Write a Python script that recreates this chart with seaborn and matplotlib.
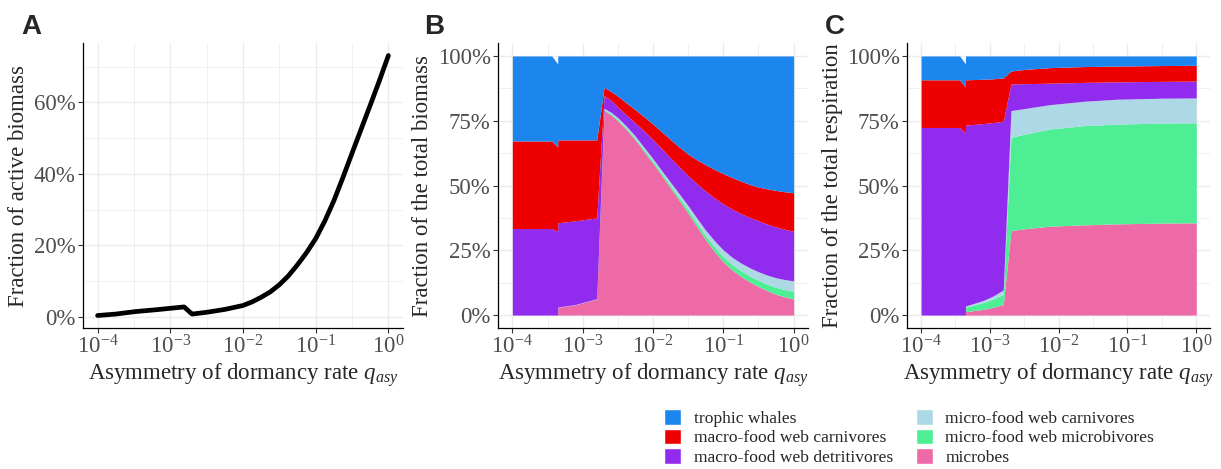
import numpy as np
import seaborn as sns
import matplotlib.pyplot as plt
from matplotlib.patches import Patch

sns.set_style('white')
plt.rcParams['font.family'] = ['Liberation Serif', 'DejaVu Serif']
plt.rcParams['mathtext.fontset'] = 'custom'
plt.rcParams['mathtext.rm'] = 'Liberation Serif'
plt.rcParams['mathtext.it'] = 'Liberation Serif:italic'

# --- data (log10 of q_asy, values in %) ---
logq_a = [-4, -3.75, -3.48, -3.2, -2.81, -2.70, -2.5, -2.25, -2.0, -1.875, -1.75,
          -1.625, -1.5, -1.375, -1.25, -1.125, -1.0, -0.875, -0.75, -0.625, -0.5,
          -0.375, -0.25, -0.125, 0.0]
active_a = [0.4, 0.8, 1.5, 2.0, 2.8, 0.8, 1.3, 2.1, 3.2, 4.2, 5.5,
            7.0, 9.0, 11.5, 14.6, 18.0, 21.9, 26.8, 32.5, 39.0, 45.8,
            52.5, 59.2, 66.0, 73.1]

groups = ['trophic whales', 'macro-food web carnivores', 'macro-food web detritivores',
          'micro-food web carnivores', 'micro-food web microbivores', 'microbes']
colors = ['#1C86EE', '#EE0000', '#912CEE', '#ADD8E6', '#4EEE94', '#EE6AA7']

# panel B: fraction of total biomass
logq_b = [-4, -3.44, -3.356, -3.354, -3.1, -2.8, -2.695, -2.6, -2.5, -2.375, -2.25,
          -2.125, -2.0, -1.875, -1.75, -1.625, -1.5, -1.375, -1.25, -1.125, -1.0,
          -0.875, -0.75, -0.625, -0.5, -0.375, -0.25, -0.125, 0.0]
b_microbes = [0, 0, 0, 3.0, 4.0, 6.2, 78.9, 77.3, 75.0, 71.5, 67.5,
              63.0, 58.5, 53.8, 49.0, 44.2, 39.3, 34.1, 29.0, 24.5, 20.5,
              17.4, 14.9, 12.8, 11.0, 9.4, 8.0, 7.0, 6.2]
b_microbivores = [0, 0, 0, 0, 0, 0, 0.5, 0.5, 0.6, 0.6, 0.7,
                  0.8, 0.9, 0.9, 1.0, 1.1, 1.3, 1.4, 1.6, 1.8, 2.0,
                  2.1, 2.2, 2.3, 2.4, 2.5, 2.7, 2.8, 2.9]
b_micro_carn = [0, 0, 0, 0.1, 0.1, 0.1, 0.4, 0.5, 0.6, 0.7, 0.8,
                0.85, 0.9, 1.0, 1.2, 1.4, 1.6, 1.85, 2.1, 2.35, 2.6,
                2.8, 3.0, 3.15, 3.3, 3.5, 3.7, 3.9, 4.1]
b_detritivores = [33.4, 33.4, 32.3, 32.5, 32.3, 31.2, 4.9, 4.7, 4.1, 4.4, 5.1,
                  6.35, 7.4, 8.5, 9.4, 10.5, 11.6, 13.35, 15.1, 16.55, 17.8,
                  18.6, 19.1, 19.45, 19.7, 19.7, 19.6, 19.4, 19.1]
b_macro_carn = [33.8, 33.8, 32.6, 32.0, 31.2, 30.1, 3.3, 3.3, 4.2, 4.6, 5.1,
                5.5, 6.0, 6.5, 7.1, 7.6, 8.3, 9.2, 10.2, 11.0, 11.7,
                12.2, 12.5, 12.7, 13.0, 13.6, 14.1, 14.5, 14.9]
b_whales = [32.8, 32.8, 32.1, 32.4, 32.4, 32.4, 12.0, 13.7, 15.5, 18.2, 20.8,
            23.5, 26.3, 29.3, 32.3, 35.2, 37.9, 40.1, 42.0, 43.8, 45.4,
            46.9, 48.3, 49.6, 50.6, 51.3, 51.9, 52.4, 52.8]

# panel C: fraction of total respiration
logq_c = [-4, -3.44, -3.356, -3.354, -3.1, -2.95, -2.805, -2.694, -2.5, -2.13,
          -1.64, -1.16, -0.5, 0.0]
c_microbes = [0, 0, 0, 1.3, 2.2, 3.0, 4.1, 32.6, 33.3, 34.3, 34.8, 35.2, 35.5, 35.6]
c_microbivores = [0, 0, 0, 1.7, 2.6, 3.2, 3.9, 36.0, 36.5, 37.5, 38.3, 38.5, 38.6, 38.6]
c_micro_carn = [0, 0, 0, 0.5, 0.8, 1.2, 1.7, 10.3, 9.9, 9.4, 9.4, 9.6, 9.6, 9.6]
c_detritivores = [72.4, 72.4, 70.1, 69.8, 68.3, 66.9, 65.1, 10.3, 9.6, 8.3, 7.3, 6.7,
                  6.5, 6.5]
c_macro_carn = [18.4, 18.4, 17.9, 17.5, 17.1, 16.9, 16.7, 5.0, 5.5, 6.0, 6.1, 6.1,
                6.1, 6.1]
c_whales = [9.2, 9.2, 9.0, 9.2, 9.0, 8.8, 8.5, 5.8, 5.2, 4.5, 4.1, 3.9, 3.7, 3.6]

xticks = [1e-4, 1e-3, 1e-2, 1e-1, 1e0]
xlabels = ['$10^{-4}$', '$10^{-3}$', '$10^{-2}$', '$10^{-1}$', '$10^{0}$']
xminor = [10 ** -3.5, 10 ** -2.5, 10 ** -1.5, 10 ** -0.5]
xlabel = r'Asymmetry of dormancy rate $q_{asy}$'

fig = plt.figure(figsize=(12.21, 4.69), dpi=100)
ax_a = fig.add_axes([0.068, 0.3006, 0.262, 0.6077])
ax_b = fig.add_axes([0.4081, 0.3006, 0.2534, 0.6077])
ax_c = fig.add_axes([0.7431, 0.3006, 0.2479, 0.6077])


def style_axis(ax, yticks, ylabels, yminor, ylim, ylabel):
    ax.set_xscale('log')
    ax.set_xlim(10 ** -4.2, 10 ** 0.2)
    ax.set_ylim(*ylim)
    ax.set_xticks(xticks, xlabels)
    ax.set_xticks(xminor, minor=True)
    ax.set_yticks(yticks, ylabels)
    ax.set_yticks(yminor, minor=True)
    ax.set_axisbelow(True)
    ax.grid(which='major', color='#EBEBEB', lw=1.0)
    ax.grid(which='minor', color='#F0F0F0', lw=0.7)
    for s in ['top', 'right']:
        ax.spines[s].set_visible(False)
    for s in ['left', 'bottom']:
        ax.spines[s].set_color('black')
        ax.spines[s].set_linewidth(0.9)
    ax.tick_params(which='major', direction='out', length=3.5, width=0.8,
                   color='#333333', labelcolor='#4D4D4D', labelsize=16.5,
                   left=True, bottom=True, pad=2)
    ax.tick_params(which='minor', length=0)
    ax.set_xlabel(xlabel, fontsize=16.5, labelpad=2)
    ax.set_ylabel(ylabel, fontsize=16.5, labelpad=3)


# panel A
sns.lineplot(x=10 ** np.array(logq_a), y=active_a, color='black', lw=3.4, ax=ax_a)
style_axis(ax_a, [0, 20, 40, 60], ['0%', '20%', '40%', '60%'], [10, 30, 50, 70],
           (-3.1, 76.6), 'Fraction of active biomass')

# panel B
ax_b.stackplot(10 ** np.array(logq_b), b_microbes, b_microbivores, b_micro_carn,
               b_detritivores, b_macro_carn, b_whales,
               colors=colors[::-1], lw=0)
style_axis(ax_b, [0, 25, 50, 75, 100], ['0%', '25%', '50%', '75%', '100%'],
           [12.5, 37.5, 62.5, 87.5], (-5, 105), 'Fraction of the total biomass')

# panel C
ax_c.stackplot(10 ** np.array(logq_c), c_microbes, c_microbivores, c_micro_carn,
               c_detritivores, c_macro_carn, c_whales,
               colors=colors[::-1], lw=0)
style_axis(ax_c, [0, 25, 50, 75, 100], ['0%', '25%', '50%', '75%', '100%'],
           [12.5, 37.5, 62.5, 87.5], (-5, 105), 'Fraction of the total respiration')

for x, lab in [(21, 'A'), (424, 'B'), (825, 'C')]:
    fig.text(x / 1221, 1 - 14 / 469, lab, ha='left', va='top', fontsize=20,
             weight='bold', family='Liberation Sans')

handles = [Patch(facecolor=c, edgecolor='white', lw=1) for c in colors]
fig.legend(handles, groups, loc='upper left', bbox_to_anchor=(664 / 1221, 1 - 409 / 469),
           ncol=2, frameon=False, fontsize=12.6, handlelength=1.0, handleheight=1.0,
           handletextpad=0.7, labelspacing=0.1, columnspacing=1.3, borderpad=0,
           borderaxespad=0)

fig.savefig('out.png', dpi=100)
